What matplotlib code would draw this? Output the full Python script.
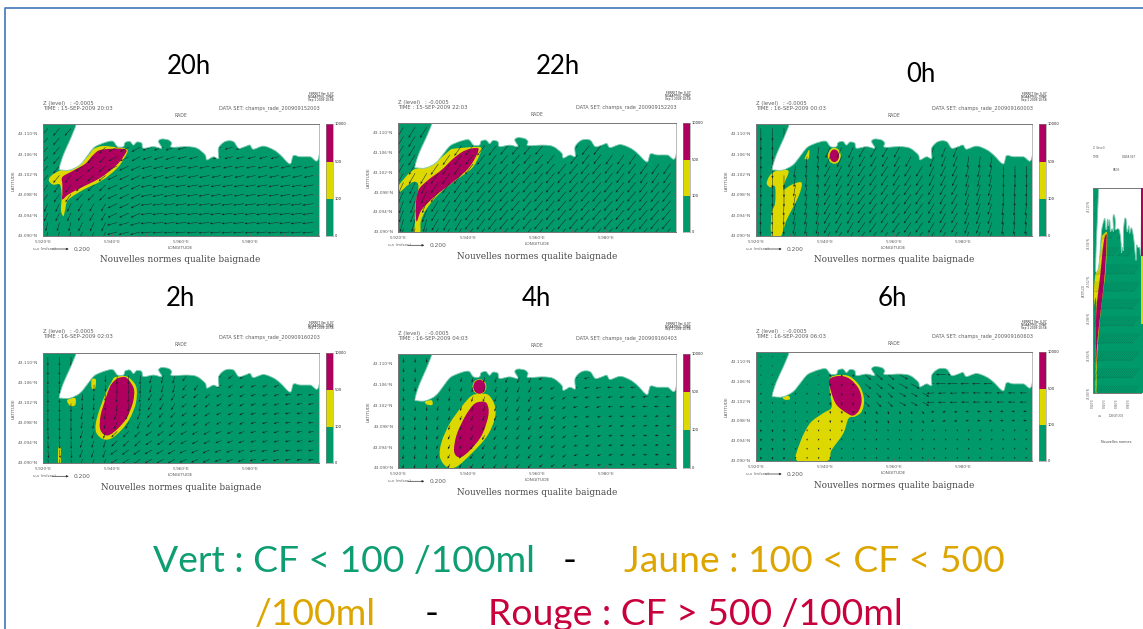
import numpy as np
import matplotlib
matplotlib.use("Agg")
import matplotlib.pyplot as plt
from matplotlib.lines import Line2D
from matplotlib.path import Path
from matplotlib.patches import Ellipse, PathPatch

W, H = 1143, 629
GREEN, YELLOW, MAGENTA = "#009A6A", "#DDD800", "#AF0060"

LON_TICKS = [5.92, 5.94, 5.96, 5.98]
LON_TICK_LABELS = ["5.920°E", "5.940°E", "5.960°E", "5.980°E"]
LAT_TICKS = [43.090, 43.094, 43.098, 43.102, 43.106, 43.110]
LAT_TICK_LABELS = ["43.090°N", "43.094°N", "43.098°N", "43.102°N", "43.106°N", "43.110°N"]
BAR_LABELS = ["0", "100", "500", "10000"]

HOURS = ["20h", "22h", "0h", "2h", "4h", "6h"]
TIMES = ["15-SEP-2009 20:03", "15-SEP-2009 22:03", "16-SEP-2009 00:03",
         "16-SEP-2009 02:03", "16-SEP-2009 04:03", "16-SEP-2009 06:03"]
DATASETS = ["champs_rade_200909152003", "champs_rade_200909152203", "champs_rade_200909160003",
            "champs_rade_200909160203", "champs_rade_200909160403", "champs_rade_200909160603"]

COAST_LON = [5.9305, 5.9300, 5.9297, 5.9279, 5.9260, 5.9248, 5.9255, 5.9279, 5.9308, 5.9332, 5.9347, 5.9361,
             5.9390, 5.9405, 5.9417, 5.9434, 5.9439, 5.9453, 5.9463, 5.9473, 5.9487, 5.9492,
             5.9521, 5.9545, 5.9536, 5.9545, 5.9565, 5.9574, 5.9574, 5.9618, 5.9647, 5.9671,
             5.9676, 5.9695, 5.9710, 5.9710, 5.9729, 5.9753, 5.9768, 5.9787, 5.9801, 5.9811,
             5.9840, 5.9869, 5.9889, 5.9917, 5.9927, 5.9947, 5.9976, 6.0000, 6.0010, 6.0010]
COAST_LAT = [43.1160, 43.1140, 43.1120, 43.1089, 43.1060, 43.1033, 43.1030, 43.1030, 43.1040, 43.1060, 43.1073, 43.1079,
             43.1086, 43.1086, 43.1076, 43.1076, 43.1084, 43.1086, 43.1079, 43.1085, 43.1083, 43.1073,
             43.1076, 43.1073, 43.1086, 43.1091, 43.1089, 43.1083, 43.1075, 43.1076, 43.1073, 43.1060,
             43.1050, 43.1056, 43.1053, 43.1073, 43.1086, 43.1086, 43.1073, 43.1076, 43.1079, 43.1071,
             43.1077, 43.1070, 43.1060, 43.1042, 43.1058, 43.1056, 43.1056, 43.1053, 43.1140, 43.1160]

# Concentration contours (lon, lat) read per panel
P1_Y_LON = [5.9219, 5.9231, 5.9255, 5.9284, 5.9308, 5.9332, 5.9347, 5.9371, 5.9400, 5.9444, 5.9439, 5.9415, 5.9371, 5.9318, 5.9274, 5.9265, 5.9260, 5.9253, 5.9255, 5.9250, 5.9231, 5.9219]
P1_Y_LAT = [43.1014, 43.1022, 43.1030, 43.1031, 43.1042, 43.1058, 43.1071, 43.1077, 43.1076, 43.1071, 43.1056, 43.1033, 43.1009, 43.0991, 43.0971, 43.0951, 43.0939, 43.0951, 43.0978, 43.1001, 43.1001, 43.1007]
P1_R_LON = [5.9257, 5.9284, 5.9323, 5.9347, 5.9371, 5.9439, 5.9434, 5.9410, 5.9366, 5.9308, 5.9275, 5.9257, 5.9257, 5.9257]
P1_R_LAT = [43.1016, 43.1027, 43.1042, 43.1060, 43.1070, 43.1071, 43.1056, 43.1037, 43.1014, 43.0994, 43.0982, 43.0972, 43.0984, 43.1001]

P2_Y_LON = [5.9200, 5.9214, 5.9243, 5.9287, 5.9315, 5.9344, 5.9354, 5.9378, 5.9436, 5.9434, 5.9412, 5.9368, 5.9320, 5.9282, 5.9265, 5.9263, 5.9246, 5.9248, 5.9248, 5.9258, 5.9248, 5.9229, 5.9205]
P2_Y_LAT = [43.0992, 43.1006, 43.1026, 43.1034, 43.1046, 43.1063, 43.1068, 43.1070, 43.1072, 43.1056, 43.1029, 43.1006, 43.0979, 43.0948, 43.0922, 43.0900, 43.0900, 43.0918, 43.0952, 43.0992, 43.1002, 43.0996, 43.0982]
P2_R_LON = [5.9258, 5.9287, 5.9325, 5.9359, 5.9392, 5.9429, 5.9426, 5.9402, 5.9359, 5.9306, 5.9267, 5.9253, 5.9250]
P2_R_LAT = [43.0985, 43.1006, 43.1026, 43.1049, 43.1065, 43.1070, 43.1056, 43.1029, 43.1002, 43.0973, 43.0945, 43.0922, 43.0952]

P3_Y_LON = [5.9232, 5.9242, 5.9266, 5.9295, 5.9285, 5.9280, 5.9304, 5.9333, 5.9324, 5.9290, 5.9273, 5.9246, 5.9246, 5.9256, 5.9256, 5.9242]
P3_Y_LAT = [43.1004, 43.1020, 43.1030, 43.1028, 43.1007, 43.0991, 43.1001, 43.1005, 43.0978, 43.0932, 43.0900, 43.0900, 43.0945, 43.0964, 43.0997, 43.0996]
P3_S_LON = [5.9341, 5.9355, 5.9353, 5.9341]
P3_S_LAT = [43.1052, 43.1070, 43.1052, 43.1052]

P4_Y_LON = [5.9410, 5.9439, 5.9458, 5.9472, 5.9470, 5.9453, 5.9429, 5.9400, 5.9376, 5.9356, 5.9354, 5.9366, 5.9385, 5.9400]
P4_Y_LAT = [43.1072, 43.1074, 43.1066, 43.1050, 43.1020, 43.0990, 43.0967, 43.0950, 43.0948, 43.0960, 43.0980, 43.1010, 43.1043, 43.1063]
P4_R_LON = [5.9419, 5.9439, 5.9453, 5.9465, 5.9461, 5.9443, 5.9419, 5.9395, 5.9378, 5.9366, 5.9368, 5.9381, 5.9395, 5.9407]
P4_R_LAT = [43.1070, 43.1072, 43.1063, 43.1046, 43.1020, 43.0990, 43.0970, 43.0957, 43.0957, 43.0970, 43.0996, 43.1026, 43.1053, 43.1064]
P4_S_LON = [5.9271, 5.9294, 5.9294, 5.9279]
P4_S_LAT = [43.1026, 43.1030, 43.1016, 43.1015]
P4_T_LON = [5.9245, 5.9252, 5.9252, 5.9245]
P4_T_LAT = [43.0930, 43.0930, 43.0900, 43.0900]
P4_U_LON = [5.9342, 5.9354, 5.9352, 5.9342]
P4_U_LAT = [43.1067, 43.1067, 43.1050, 43.1050]

P5_Y_LON = [5.9431, 5.9460, 5.9479, 5.9477, 5.9455, 5.9412, 5.9368, 5.9339, 5.9320, 5.9325, 5.9349, 5.9383, 5.9410]
P5_Y_LAT = [43.1043, 43.1041, 43.1019, 43.0993, 43.0961, 43.0929, 43.0903, 43.0903, 43.0922, 43.0951, 43.0987, 43.1019, 43.1039]
P5_R_LON = [5.9436, 5.9455, 5.9460, 5.9441, 5.9407, 5.9378, 5.9361, 5.9368, 5.9392, 5.9416]
P5_R_LAT = [43.1028, 43.1025, 43.1003, 43.0964, 43.0935, 43.0921, 43.0932, 43.0964, 43.0999, 43.1022]
P5_S_LON = [5.9277, 5.9296, 5.9298, 5.9282]
P5_S_LAT = [43.1028, 43.1031, 43.1022, 43.1023]

P6_Y_LON = [5.9415, 5.9440, 5.9473, 5.9502, 5.9514, 5.9507, 5.9488, 5.9469, 5.9454, 5.9420, 5.9406, 5.9321, 5.9328, 5.9357, 5.9396, 5.9420, 5.9415]
P6_Y_LAT = [43.1067, 43.1074, 43.1071, 43.1051, 43.1024, 43.1000, 43.0990, 43.0986, 43.0956, 43.0922, 43.0900, 43.0900, 43.0936, 43.0976, 43.0997, 43.1009, 43.1040]
P6_R_LON = [5.9413, 5.9440, 5.9471, 5.9498, 5.9507, 5.9500, 5.9483, 5.9464, 5.9435, 5.9420]
P6_R_LAT = [43.1064, 43.1072, 43.1067, 43.1047, 43.1024, 43.1003, 43.0992, 43.0997, 43.1013, 43.1037]
P6_S_LON = [5.9278, 5.9295, 5.9299, 5.9285]
P6_S_LAT = [43.1029, 43.1032, 43.1025, 43.1024]

YELLOW_AREAS = [
    [(P1_Y_LON, P1_Y_LAT)],
    [(P2_Y_LON, P2_Y_LAT)],
    [(P3_Y_LON, P3_Y_LAT), (P3_S_LON, P3_S_LAT)],
    [(P4_Y_LON, P4_Y_LAT), (P4_S_LON, P4_S_LAT), (P4_T_LON, P4_T_LAT), (P4_U_LON, P4_U_LAT)],
    [(P5_Y_LON, P5_Y_LAT), (P5_S_LON, P5_S_LAT)],
    [(P6_Y_LON, P6_Y_LAT), (P6_S_LON, P6_S_LAT)],
]
RED_AREAS = [[(P1_R_LON, P1_R_LAT)], [(P2_R_LON, P2_R_LAT)], [], [(P4_R_LON, P4_R_LAT)],
             [(P5_R_LON, P5_R_LAT)], [(P6_R_LON, P6_R_LAT)]]
# Round patches: lon, lat, width, height of yellow then red
P3_SPOT = [5.9428, 43.1058, 0.0037, 0.00315, 0.0027, 0.0025]
P5_SPOT = [5.9434, 43.1057, 0.0040, 0.0029, 0.0035, 0.0027]
SPOTS = [None, None, P3_SPOT, None, P5_SPOT, None]

# Current direction (degrees) by row (south to north) and 0.01-degree column
ANGLES = [
    [[255, 245, 195, 185, 185, 185, 185, 185], [245, 240, 205, 188, 188, 188, 188, 188],
     [235, 225, 205, 192, 190, 190, 190, 190], [230, 220, 205, 195, 192, 192, 192, 192],
     [230, 225, 208, 198, 195, 195, 195, 195], [230, 228, 210, 200, 195, 195, 195, 195]],
    [[255, 240, 232, 230, 230, 230, 230, 230], [250, 238, 232, 230, 230, 230, 230, 230],
     [245, 235, 232, 230, 230, 230, 230, 232], [240, 235, 232, 230, 230, 230, 232, 235],
     [238, 235, 232, 230, 230, 232, 235, 238], [238, 235, 232, 232, 232, 235, 238, 240]],
    [[268, 258, 240, 235, 235, 240, 250, 262], [268, 258, 240, 235, 235, 240, 250, 264],
     [270, 260, 240, 235, 235, 240, 252, 268], [270, 262, 242, 236, 238, 244, 256, 270],
     [270, 264, 246, 240, 242, 248, 262, 274], [270, 268, 258, 248, 248, 256, 268, 278]],
    [[275, 250, 215, 210, 205, 200, 195, 190], [272, 252, 225, 215, 208, 202, 195, 190],
     [270, 258, 245, 228, 215, 205, 198, 190], [270, 265, 265, 240, 220, 210, 200, 190],
     [270, 268, 268, 255, 235, 215, 205, 195], [270, 268, 268, 265, 250, 225, 210, 200]],
    [[260, 240, 235, 230, 220, 200, 190, 185], [265, 245, 240, 232, 220, 200, 190, 185],
     [265, 250, 245, 235, 220, 200, 190, 185], [270, 255, 250, 240, 215, 195, 188, 183],
     [270, 260, 255, 245, 210, 195, 185, 183], [270, 265, 260, 250, 205, 190, 185, 180]],
    [[270, 270, 275, 280, 280, 270, 260, 250], [270, 270, 275, 280, 280, 270, 260, 250],
     [270, 270, 275, 285, 290, 200, 190, 185], [270, 270, 270, 315, 330, 183, 180, 180],
     [270, 270, 270, 320, 330, 180, 180, 180], [270, 270, 270, 300, 320, 180, 180, 180]],
]
SPEEDS = [
    [[.13, .14, .15, .16, .16, .16, .16, .16], [.13, .13, .15, .16, .16, .16, .16, .16],
     [.14, .13, .15, .16, .16, .15, .15, .15], [.14, .13, .15, .15, .15, .14, .14, .14],
     [.14, .13, .14, .14, .13, .12, .12, .12], [.14, .13, .14, .13, .12, .12, .12, .12]],
    [[.19, .19, .19, .19, .19, .19, .19, .19], [.19, .19, .19, .19, .19, .19, .19, .19],
     [.19, .19, .19, .19, .19, .19, .19, .19], [.18, .19, .19, .19, .19, .19, .18, .18],
     [.18, .18, .18, .17, .17, .17, .17, .17], [.18, .18, .17, .16, .16, .16, .16, .16]],
    [[.17, .17, .18, .18, .18, .17, .17, .17], [.17, .17, .18, .18, .18, .17, .17, .17],
     [.18, .17, .18, .18, .18, .17, .17, .17], [.18, .17, .18, .18, .18, .17, .17, .17],
     [.18, .17, .17, .17, .17, .16, .16, .16], [.18, .17, .16, .16, .16, .15, .14, .14]],
    [[.12, .12, .12, .12, .11, .10, .09, .08], [.12, .11, .12, .11, .10, .09, .08, .08],
     [.13, .10, .11, .10, .09, .08, .08, .08], [.13, .10, .12, .11, .09, .08, .08, .08],
     [.13, .10, .13, .12, .10, .08, .08, .08], [.13, .11, .12, .12, .10, .08, .07, .07]],
    [[.07, .07, .08, .08, .07, .06, .06, .06], [.07, .07, .08, .08, .07, .06, .06, .06],
     [.07, .07, .08, .08, .07, .06, .06, .06], [.07, .07, .08, .09, .07, .07, .07, .07],
     [.07, .07, .08, .09, .07, .08, .08, .08], [.07, .07, .07, .07, .06, .08, .08, .08]],
    [[.04, .03, .03, .03, .03, .03, .03, .03], [.04, .03, .03, .03, .03, .03, .03, .03],
     [.03, .03, .04, .05, .05, .05, .05, .05], [.03, .03, .05, .10, .11, .11, .11, .10],
     [.02, .02, .04, .12, .14, .14, .12, .10], [.02, .02, .03, .08, .08, .06, .05, .05]],
]

plt.rcParams["font.family"] = ["DejaVu Sans"]
fig = plt.figure(figsize=(W / 100, H / 100), dpi=100, facecolor="white")
INK = "#5c5c5c"


def fx(x):
    return x / W


def fy(y):
    return 1 - y / H


def box(x0, y0, x1, y1):
    return fig.add_axes([fx(x0), fy(y1), (x1 - x0) / W, (y1 - y0) / H])


def label(x, y, s, size=3.6, ha="left", va="center", **kw):
    kw.setdefault("color", INK)
    fig.text(fx(x), fy(y), s, fontsize=size, ha=ha, va=va, **kw)


def rounded(lon, lat):
    """Closed smooth outline through the read contour points."""
    p = np.column_stack([lon, lat])
    n = len(p)
    verts = [p[0]]
    codes = [Path.MOVETO]
    for i in range(n):
        a, b, c, d = p[i - 1], p[i], p[(i + 1) % n], p[(i + 2) % n]
        verts += [b + (c - a) / 6, c - (d - b) / 6, c]
        codes += [Path.CURVE4] * 3
    return Path(np.array(verts), codes)


LAND = Path(np.column_stack([COAST_LON + [COAST_LON[0]], COAST_LAT + [COAST_LAT[0]]]))


def draw_field(ax, idx, lw=0.5, alpha=1.0):
    ax.set_facecolor(GREEN)
    ax.set_xlim(5.92, 6.00)
    ax.set_ylim(43.09, 43.112)
    for lon, lat in YELLOW_AREAS[idx]:
        ax.add_patch(PathPatch(rounded(lon, lat), color=YELLOW, lw=0, zorder=2))
    for lon, lat in RED_AREAS[idx]:
        ax.add_patch(PathPatch(rounded(lon, lat), color=MAGENTA, lw=0, zorder=2.1))
    spot = SPOTS[idx]
    if spot:
        ax.add_patch(Ellipse(spot[:2], spot[2], spot[3], color=YELLOW, lw=0, zorder=2.2))
        ax.add_patch(Ellipse(spot[:2], spot[4], spot[5], color=MAGENTA, lw=0, zorder=2.3))
    ang = np.radians(np.repeat(np.repeat(np.array(ANGLES[idx], float), 2, axis=0), 3, axis=1))
    spd = np.repeat(np.repeat(np.array(SPEEDS[idx], float), 2, axis=0), 3, axis=1)
    xs = np.linspace(5.9215, 5.9985, 24)
    ys = np.linspace(43.0908, 43.1112, 12)
    X, Y = np.meshgrid(xs, ys)
    keep = ~LAND.contains_points(np.column_stack([X.ravel(), Y.ravel()])).reshape(X.shape)
    ax.quiver(X[keep], Y[keep], (spd * np.cos(ang))[keep], (spd * np.sin(ang))[keep],
              angles="uv", scale_units="dots", units="dots", scale=0.2 / 14, width=lw,
              headwidth=4.5, headlength=5.5, headaxislength=4.5, color="#1a2428", alpha=alpha,
              zorder=2.5, pivot="tail")
    ax.add_patch(PathPatch(rounded(COAST_LON, COAST_LAT), facecolor="white", edgecolor="#7fc9ae",
                           lw=0.6, zorder=3))
    for s in ax.spines.values():
        s.set_color("#777777")
        s.set_linewidth(0.7)
        s.set_zorder(4)
    ax.spines["right"].set_color("#bbbbbb")
    ax.set_xticks(np.arange(5.92, 6.001, 0.01))
    ax.set_yticks(np.arange(43.09, 43.1121, 0.002))
    ax.tick_params(which="both", direction="in", length=2, width=0.5, color="#666666",
                   top=True, right=True, labelbottom=False, labelleft=False)


BOXES = [(42.7, 124.3, 318.5, 236), (398.3, 123.3, 675.7, 232.3), (755.7, 124.3, 1031.7, 236),
         (42.7, 353, 318.7, 463.3), (398.3, 354, 675.7, 468.3), (755.7, 352.3, 1031.7, 461)]
HOUR_POS = [(189, 67), (558, 67), (921, 75), (180, 299), (536, 299), (892, 299)]

for i, (x0, y0, x1, y1) in enumerate(BOXES):
    ax = box(x0, y0, x1, y1)
    draw_field(ax, i)
    wid = x1 - x0
    hgt = y1 - y0
    label(x0, y0 - 21, "Z (level)   : -0.0005", size=3.8)
    label(x0, y0 - 16, "TIME : " + TIMES[i], size=3.9)
    label(x1 + 1, y0 - 16, "DATA SET: " + DATASETS[i], ha="right")
    label(x0 + wid * 0.5, y0 - 9, "RADE", size=3.3, ha="center")
    for k, tiny in enumerate(["FERRET Ver. 6.07", "NOAA/PMEL TMAP", "Sep 1 2009 10:58"]):
        label(x1 + 15, y0 - 30 + k * 2.7, tiny, size=2.1, ha="right", color="#222222")
    for t, s in zip(LON_TICKS, LON_TICK_LABELS):
        label(x0 + (t - 5.92) / 0.08 * wid, y1 + 6, s, size=3.05, ha="center")
    for t, s in zip(LAT_TICKS, LAT_TICK_LABELS):
        label(x0 - 5, y1 - (t - 43.09) / 0.022 * hgt, s, size=3.05, ha="right")
    label(x0 - 29.5, y0 + hgt * 0.5, "LATITUDE", size=3.2, rotation=90, ha="center")
    label(x0 + wid * 0.5, y1 + 12, "LONGITUDE", size=3.2, ha="center")
    label(x0 - 10, y1 + 13, "u,v (m/sec)", size=2.9)
    ax.annotate("", xy=(fx(x0 + 26), fy(y1 + 13)), xytext=(fx(x0 + 9.5), fy(y1 + 13)),
                xycoords="figure fraction", textcoords="figure fraction",
                arrowprops=dict(arrowstyle="-|>", lw=0.5, mutation_scale=3, color="#333333",
                                shrinkA=0, shrinkB=0))
    label(x0 + 31, y1 + 13, "0.200", size=4.2)
    label(x0 + wid * 0.5, y1 + 24, "Nouvelles normes qualite baignade", size=6.4, ha="center",
          family="DejaVu Serif", color="#444444")
    # colour key
    cb = box(x1 + 7.5, y0, x1 + 14.5, y1)
    cb.set_xlim(0, 1)
    cb.set_ylim(0, 3)
    cb.bar([0.5, 0.5, 0.5], [1, 1, 1], width=1, bottom=[0, 1, 2], color=[GREEN, YELLOW, MAGENTA])
    cb.set_xticks([])
    cb.set_yticks([])
    for s in cb.spines.values():
        s.set_color("#888888")
        s.set_linewidth(0.4)
    for k, s in enumerate(BAR_LABELS):
        label(x1 + 16, y1 - k * hgt / 3, s, size=2.6, color="#222222")
    fig.text(fx(HOUR_POS[i][0]), fy(HOUR_POS[i][1]), HOURS[i], fontsize=18.5, ha="center", va="center",
             family="Lato", color="black")

# Narrow seventh view at the right edge
ax7 = box(1092.7, 187.7, 1141, 392.7)
draw_field(ax7, 1, lw=0.3, alpha=0.35)
ax7.tick_params(which="both", length=1)
cb7 = box(1141, 187.7, 1143, 392.7)
cb7.set_xlim(0, 1)
cb7.set_ylim(0, 3)
cb7.bar([0.5, 0.5, 0.5], [1, 1, 1], width=1, bottom=[0, 1, 2], color=[GREEN, YELLOW, MAGENTA])
cb7.axis("off")
label(1093, 148, "Z (level)", size=2.0)
label(1093, 157, "TIME", size=2.0)
label(1122, 157, "DATA SET", size=2.0)
label(1116, 170, "RADE", size=2.0, ha="center")
for t, s in zip(LAT_TICKS, LAT_TICK_LABELS):
    label(1089, 392.7 - (t - 43.09) / 0.022 * 205, s, size=1.8, rotation=90, ha="center")
for t, s in zip(LON_TICKS, LON_TICK_LABELS):
    label(1093 + (t - 5.92) / 0.08 * 48, 403, s, size=1.8, rotation=90, ha="center")
label(1084, 290, "LATITUDE", size=2.0, rotation=90, ha="center")
label(1116, 416, "LONGITUDE", size=1.9, ha="center")
label(1100, 416, "u,v", size=1.9, ha="center")
label(1116, 442, "Nouvelles normes", size=2.4, ha="center", color="#444444")

# Slide frame
fig.add_artist(Line2D([fx(5), fx(5), fx(1143)], [fy(629), fy(8), fy(8)], color="#4F81BD", lw=1.3))

# Colour legend sentence
LEG = [(153, 572, "Vert : CF < 100 /100ml", "#0F9D72"), (563, 572, "-", "black"),
       (624, 572, "Jaune : 100 < CF < 500", "#DDA500"), (255, 625, "/100ml", "#DDA500"),
       (425, 625, "-", "black"), (488, 625, "Rouge : CF > 500 /100ml", "#C8003C")]
for x, y, s, c in LEG:
    fig.text(fx(x), fy(y), s, fontsize=26.8, ha="left", va="baseline", family="Lato", color=c)

fig.savefig("out.png", dpi=100)
